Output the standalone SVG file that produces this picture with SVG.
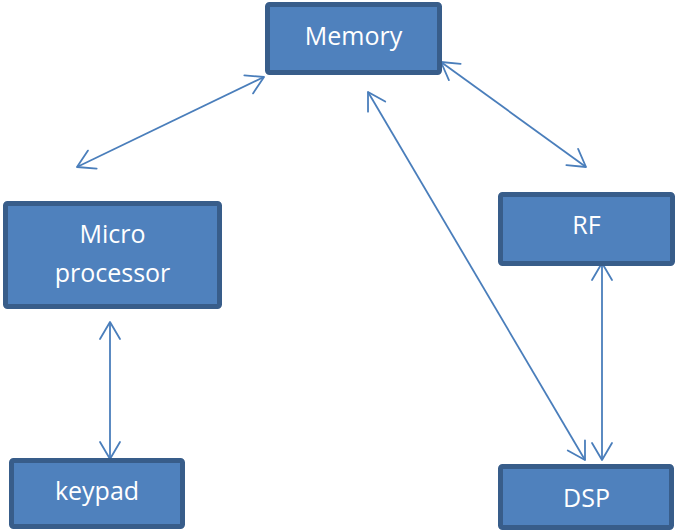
<svg xmlns="http://www.w3.org/2000/svg" width="675" height="531" viewBox="0 0 675 531">
  <style>
    .box { fill: #4f81bd; stroke: #385d8a; stroke-width: 5; }
    .label { fill: #ffffff; font-family: "Open Sans", "Liberation Sans", sans-serif; font-size: 25px; text-anchor: middle; }
    .link { stroke: #4a7ebb; stroke-width: 1.8; fill: none; marker-start: url(#arrow); marker-end: url(#arrow); }
  </style>
  <defs>
    <marker id="arrow" markerUnits="userSpaceOnUse" viewBox="-20 -12 22 24" refX="0" refY="0" markerWidth="22" markerHeight="24" orient="auto-start-reverse" overflow="visible">
      <path d="M -17,-10 L 0,0 L -17,10" fill="none" stroke="#4a7ebb" stroke-width="1.8" stroke-linejoin="round" stroke-linecap="round"/>
    </marker>
  </defs>
  <rect width="675" height="531" fill="#ffffff"/>

  <g id="connectors">
    <line class="link" x1="264" y1="77" x2="77" y2="167"/>
    <line class="link" x1="441" y1="62" x2="586" y2="167"/>
    <line class="link" x1="368" y1="92" x2="585" y2="460"/>
    <line class="link" x1="602" y1="263" x2="602" y2="460"/>
    <line class="link" x1="110" y1="322" x2="110" y2="459"/>
  </g>

  <g id="memory">
    <rect class="box" x="267.5" y="4.5" width="172" height="68" rx="2"/>
    <text class="label" x="353.5" y="45">Memory</text>
  </g>

  <g id="microprocessor">
    <rect class="box" x="5.5" y="203.5" width="214" height="103" rx="2"/>
    <text class="label" x="112.5" y="243">Micro</text>
    <text class="label" x="112.5" y="282">processor</text>
  </g>

  <g id="rf">
    <rect class="box" x="500.5" y="194.5" width="172" height="69" rx="2"/>
    <text class="label" x="586.5" y="234">RF</text>
  </g>

  <g id="keypad">
    <rect class="box" x="11.5" y="460.5" width="171" height="66" rx="2"/>
    <text class="label" x="97" y="500">keypad</text>
  </g>

  <g id="dsp">
    <rect class="box" x="500.5" y="466.5" width="171" height="61" rx="2"/>
    <text class="label" x="586.5" y="507">DSP</text>
  </g>
</svg>
